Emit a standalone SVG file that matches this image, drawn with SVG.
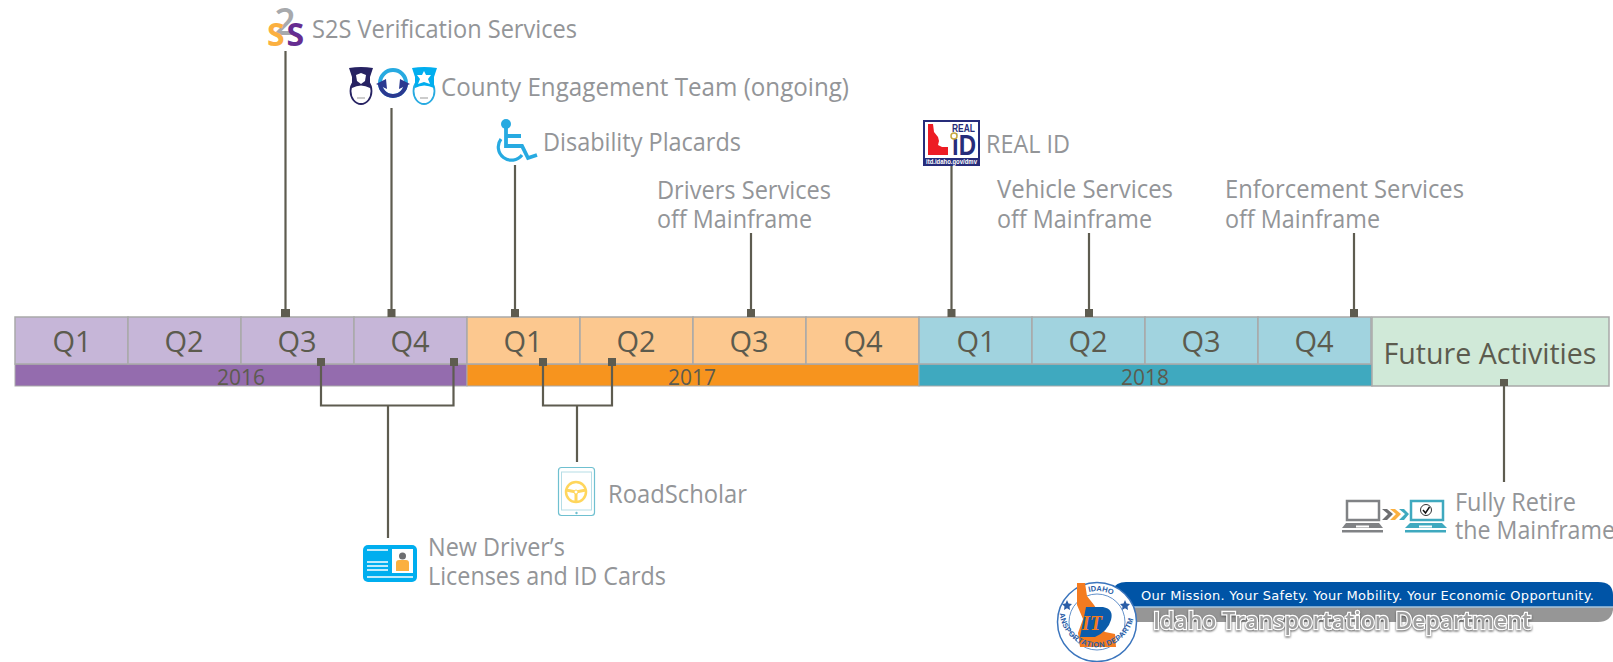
<svg xmlns="http://www.w3.org/2000/svg" width="1613" height="662" viewBox="0 0 1613 662">
<style>
.lbl{font-family:"Open Sans","Liberation Sans",sans-serif;font-size:25px;fill:#939598}
.q{font-family:"Open Sans","Liberation Sans",sans-serif;font-size:29px;fill:#5c5b4e;text-anchor:middle}
.y{font-family:"Open Sans","Liberation Sans",sans-serif;font-size:21px;fill:#5c5b4e;text-anchor:middle}
.cell{stroke:#a9a9a9;stroke-width:1.500}
.c{fill:none;stroke:#5e5c50;stroke-width:2.200}
.sq{fill:#5e5c50}
</style>
<defs>
<path id="arc-top" d="M1066 622A31 31 0 0 1 1128 622"/>
<path id="arc-bot" d="M1060 616A37.500 37.500 0 0 0 1134 616"/>
</defs>
<rect width="1613" height="662" fill="#fff"/>
<g id="year-2016">
<rect x="15" y="364" width="452" height="22" fill="#946cae" stroke="#a9a9a9"/>
<rect class="cell" x="15" y="317" width="113" height="47" fill="#c6b6d8"/><rect class="cell" x="128" y="317" width="113" height="47" fill="#c6b6d8"/><rect class="cell" x="241" y="317" width="113" height="47" fill="#c6b6d8"/><rect class="cell" x="354" y="317" width="113" height="47" fill="#c6b6d8"/>
<text class="q" x="72" y="352">Q1</text><text class="q" x="184" y="352">Q2</text><text class="q" x="297" y="352">Q3</text><text class="q" x="410" y="352">Q4</text><text class="y" x="241" y="385">2016</text>
</g>
<g id="year-2017">
<rect x="467" y="364" width="452" height="22" fill="#f7941e" stroke="#a9a9a9"/>
<rect class="cell" x="467" y="317" width="113" height="47" fill="#fcc88f"/><rect class="cell" x="580" y="317" width="113" height="47" fill="#fcc88f"/><rect class="cell" x="693" y="317" width="113" height="47" fill="#fcc88f"/><rect class="cell" x="806" y="317" width="113" height="47" fill="#fcc88f"/>
<text class="q" x="523" y="352">Q1</text><text class="q" x="636" y="352">Q2</text><text class="q" x="749" y="352">Q3</text><text class="q" x="863" y="352">Q4</text><text class="y" x="692" y="385">2017</text>
</g>
<g id="year-2018">
<rect x="919" y="364" width="453" height="22" fill="#3fa9bf" stroke="#a9a9a9"/>
<rect class="cell" x="919" y="317" width="113" height="47" fill="#a1d3df"/><rect class="cell" x="1032" y="317" width="113" height="47" fill="#a1d3df"/><rect class="cell" x="1145" y="317" width="113" height="47" fill="#a1d3df"/><rect class="cell" x="1258" y="317" width="113" height="47" fill="#a1d3df"/>
<text class="q" x="976" y="352">Q1</text><text class="q" x="1088" y="352">Q2</text><text class="q" x="1201" y="352">Q3</text><text class="q" x="1314" y="352">Q4</text><text class="y" x="1145" y="385">2018</text>
</g>
<g id="future">
<rect class="cell" x="1372" y="317" width="237" height="69" fill="#d0e9d8"/>
<text class="q" x="1490" y="364" textLength="213" lengthAdjust="spacingAndGlyphs" style="font-size:30px">Future Activities</text>
</g>
<g id="connectors">
<path class="c" d="M285.500 51V317M391.500 108V317M515 165V317M951.500 165V317M751 233V317M1089 233V317M1354 233V317"/>
<path class="c" d="M321 360V405.500H453.500V360M388 405.500V538M543 360V405.500H612V360M577 405.500V462M1504 380V482"/>
<g class="sq">
<rect x="281" y="309" width="9" height="8"/><rect x="387.500" y="309" width="8" height="8"/><rect x="511" y="309" width="8" height="8"/><rect x="947.500" y="309" width="8" height="8"/><rect x="747" y="309" width="8" height="8"/><rect x="1085" y="309" width="8" height="8"/><rect x="1350" y="309" width="8" height="8"/>
<rect x="317" y="358" width="8" height="8"/><rect x="450" y="358" width="8" height="8"/><rect x="539" y="358" width="8" height="8"/><rect x="608" y="358" width="8" height="8"/><rect x="1500" y="379" width="8" height="7"/>
</g>
</g>
<g id="s2s">
<text x="274.500" y="35" style="font:600 37px 'Open Sans',sans-serif;fill:#a7a9ac">2</text>
<text x="267" y="46" style="font:700 32px 'Open Sans',sans-serif;fill:#fbb040">S</text>
<text x="286.500" y="46" style="font:700 32px 'Open Sans',sans-serif;fill:#662d91">S</text>
<text class="lbl" x="312" y="38" textLength="265" lengthAdjust="spacingAndGlyphs">S2S Verification Services</text>
</g>
<g id="county">
<g id="officer-a"><ellipse cx="361" cy="91" rx="10.500" ry="13" fill="#fff" stroke="#262262" stroke-width="1.800"/><path d="M349 68q12 -2 24 0l-3 9v11q-9 -5 -18 0v-11z" fill="#262262"/><path d="M361 73l5 2-1 6-4 3-4-3-1-6z" fill="#fff"/><path d="M357 98h8" stroke="#999" stroke-width="1"/></g>
<circle cx="393" cy="83" r="13" fill="none" stroke="#27aae1" stroke-width="4"/><path d="M406 83a13 13 0 0 1 -26 0" fill="none" stroke="#2b3990" stroke-width="4"/><path d="M376 84l10-5 1 10zM410 84l-10-5-1 10z" fill="#2b3990"/>
<g id="officer-b"><ellipse cx="424" cy="91" rx="10.500" ry="13" fill="#fff" stroke="#27aae1" stroke-width="1.800"/><path d="M412 68q12 -2 25 0l-3 9v11q-10 -5 -19 0v-11z" fill="#00aeef"/><path d="M424 71l2 4 5 0-3 4 2 5-6-2-6 2 2-5-3-4 5 0z" fill="#fff"/><path d="M420 98h8" stroke="#999" stroke-width="1"/></g>
<text class="lbl" x="441" y="96" textLength="408" lengthAdjust="spacingAndGlyphs">County Engagement Team (ongoing)</text>
</g>
<g id="disability">
<circle cx="506" cy="124" r="5" fill="#27aae1"/><path d="M506 128V146H522L528 158 537 155M506 136H521" fill="none" stroke="#27aae1" stroke-width="3.800"/><path d="M501 139A12.500 12.500 0 1 0 522 155" fill="none" stroke="#27aae1" stroke-width="3.200"/>
<text class="lbl" x="543" y="151" textLength="198" lengthAdjust="spacingAndGlyphs">Disability Placards</text>
</g>
<g id="drivers"><text class="lbl" x="657" y="199" textLength="174" lengthAdjust="spacingAndGlyphs">Drivers Services</text><text class="lbl" x="657" y="228" textLength="155" lengthAdjust="spacingAndGlyphs">off Mainframe</text></g>
<g id="real-id">
<rect x="924" y="121" width="55" height="44" fill="#fff" stroke="#262c7a" stroke-width="2"/>
<rect x="923" y="158" width="57" height="8" fill="#262c7a"/>
<path d="M928 124h5l1 8 4 5 1 4-1 4 4 2 6 0v8h-20z" fill="#ed1c24"/>
<text x="952" y="132" textLength="23" lengthAdjust="spacingAndGlyphs" style="font:700 11px 'Liberation Sans',sans-serif;fill:#262c7a">REAL</text>
<text x="952" y="155" textLength="24" lengthAdjust="spacingAndGlyphs" style="font:700 29px 'Liberation Sans',sans-serif;fill:#262c7a">iD</text>
<circle cx="954" cy="136" r="3" fill="#fff" stroke="#c8a93e" stroke-width="1.500"/>
<text x="926" y="164" textLength="51" lengthAdjust="spacingAndGlyphs" style="font:700 6.500px 'Liberation Sans',sans-serif;fill:#fff">itd.idaho.gov/dmv</text>
<text class="lbl" x="986" y="153" textLength="84" lengthAdjust="spacingAndGlyphs">REAL ID</text>
</g>
<g id="vehicle"><text class="lbl" x="997" y="198" textLength="176" lengthAdjust="spacingAndGlyphs">Vehicle Services</text><text class="lbl" x="997" y="228" textLength="155" lengthAdjust="spacingAndGlyphs">off Mainframe</text></g>
<g id="enforcement"><text class="lbl" x="1225" y="198" textLength="239" lengthAdjust="spacingAndGlyphs">Enforcement Services</text><text class="lbl" x="1225" y="228" textLength="155" lengthAdjust="spacingAndGlyphs">off Mainframe</text></g>
<g id="new-licenses">
<rect x="363" y="545" width="54" height="37" rx="5" fill="#00aeef"/><rect x="392" y="549" width="21" height="24" fill="#fff"/>
<circle cx="402.500" cy="556" r="3.500" fill="#6d6e71"/><path d="M396 571v-8q0-3 3-3h7q3 0 3 3v8z" fill="#fbb040"/>
<path d="M367 550h21M367 562h21M367 566h21M367 570h21M367 577h46" stroke="#fff" stroke-width="1.300"/>
<text class="lbl" x="428" y="556" textLength="137" lengthAdjust="spacingAndGlyphs">New Driver’s</text><text class="lbl" x="428" y="585" textLength="238" lengthAdjust="spacingAndGlyphs">Licenses and ID Cards</text>
</g>
<g id="roadscholar">
<rect x="558.500" y="467.500" width="36" height="48" rx="3" fill="#fff" stroke="#6fc0d0" stroke-width="1.200"/><rect x="561.500" y="472" width="30" height="38" fill="none" stroke="#b5dde6"/><circle cx="576.500" cy="513" r="1.200" fill="#6fc0d0"/>
<circle cx="576" cy="492" r="10" fill="none" stroke="#ffd65c" stroke-width="2.500"/><path d="M566 490L576 492 586 490M576 492V502" fill="none" stroke="#ffd65c" stroke-width="3"/><circle cx="576" cy="492" r="2" fill="#fff" stroke="#ffd65c"/>
<text class="lbl" x="608" y="503" textLength="139" lengthAdjust="spacingAndGlyphs">RoadScholar</text>
</g>
<g id="retire">
<rect x="1347" y="501" width="32" height="19" fill="#fff" stroke="#808285" stroke-width="2.500"/><path d="M1342 528l4-5h33l4 5z" fill="#808285"/><rect x="1342" y="530" width="41" height="2.500" fill="#808285"/><rect x="1356" y="525.500" width="13" height="2" fill="#fff"/>
<path d="M1382 509l6 5-6 6h5l6-6-6-5z" fill="#6d6e71"/><path d="M1390 509l6 5-6 6h5l6-6-6-5z" fill="#fbb040"/><path d="M1399 509l6 5-6 6h5l5-6-5-5z" fill="#3fa9bf"/>
<rect x="1411" y="501" width="32" height="19" fill="#fff" stroke="#3fa9bf" stroke-width="2.500"/><path d="M1405 528l5-5h32l5 5z" fill="#3fa9bf"/><rect x="1405" y="530" width="41" height="2.500" fill="#3fa9bf"/><rect x="1419" y="525.500" width="13" height="2" fill="#fff"/>
<circle cx="1426" cy="510" r="5.500" fill="#fff" stroke="#333" stroke-width="1"/><path d="M1423 510l2.500 3 4-6" fill="none" stroke="#111" stroke-width="1.500"/>
<text class="lbl" x="1455" y="511" textLength="121" lengthAdjust="spacingAndGlyphs">Fully Retire</text><text class="lbl" x="1455" y="539" textLength="160" lengthAdjust="spacingAndGlyphs">the Mainframe</text>
</g>
<g id="logo">
<path d="M1112 590Q1116 582 1126 582H1598Q1613 582 1613 595V607H1112z" fill="#0054a6"/>
<path d="M1113 607H1613V610Q1611 622 1598 622H1113z" fill="#969696"/>
<path d="M1113 607H1613" stroke="#a6c4dc" stroke-width="1.500"/>
<circle cx="1097" cy="622" r="39.500" fill="#fff" stroke="#3b75bd" stroke-width="1.500"/><circle cx="1097" cy="622" r="28" fill="#fff" stroke="#3b75bd" stroke-width="0.800"/>
<path d="M1077 583h8l2 13 7 9 9 14-3 8 5 5 10 2 1 13h-36l-2-14 5-14-6-14z" fill="#f47b20"/>
<path d="M1086 607h17q11 2 8 13t-16 17h-15z" fill="#0b5cab"/><text x="1092" y="630" text-anchor="middle" style="font:italic 700 20px 'Liberation Serif',serif;fill:#f47b20">IT</text>
<path d="M1067 600l1.500 3.500 3.500.5-2.500 2.500.5 3.500-3-1.800-3 1.800.5-3.500-2.500-2.500 3.500-.5zM1125 600l1.500 3.500 3.500.5-2.500 2.500.5 3.500-3-1.800-3 1.800.5-3.500-2.500-2.500 3.500-.5z" fill="#2b5ea7"/>
<text style="font:700 7.500px 'Liberation Sans',sans-serif;fill:#2b5ea7" text-anchor="middle"><textPath href="#arc-top" startOffset="54%">IDAHO</textPath></text>
<text style="font:700 7.500px 'Liberation Sans',sans-serif;fill:#2b5ea7;letter-spacing:.4px" text-anchor="middle"><textPath href="#arc-bot" startOffset="50%">TRANSPORTATION DEPARTMENT</textPath></text>
<text x="1141" y="600" textLength="453" style="font:400 13px 'DejaVu Sans',sans-serif;fill:#fff">Our Mission. Your Safety. Your Mobility. Your Economic Opportunity.</text>
<text x="1153" y="629" textLength="378" lengthAdjust="spacingAndGlyphs" style="font:600 23px 'Open Sans',sans-serif;fill:#a0a0a0;stroke:#fff;stroke-width:2.500;paint-order:stroke;filter:drop-shadow(0 1px 1px #555)">Idaho Transportation Department</text>
</g>
</svg>
